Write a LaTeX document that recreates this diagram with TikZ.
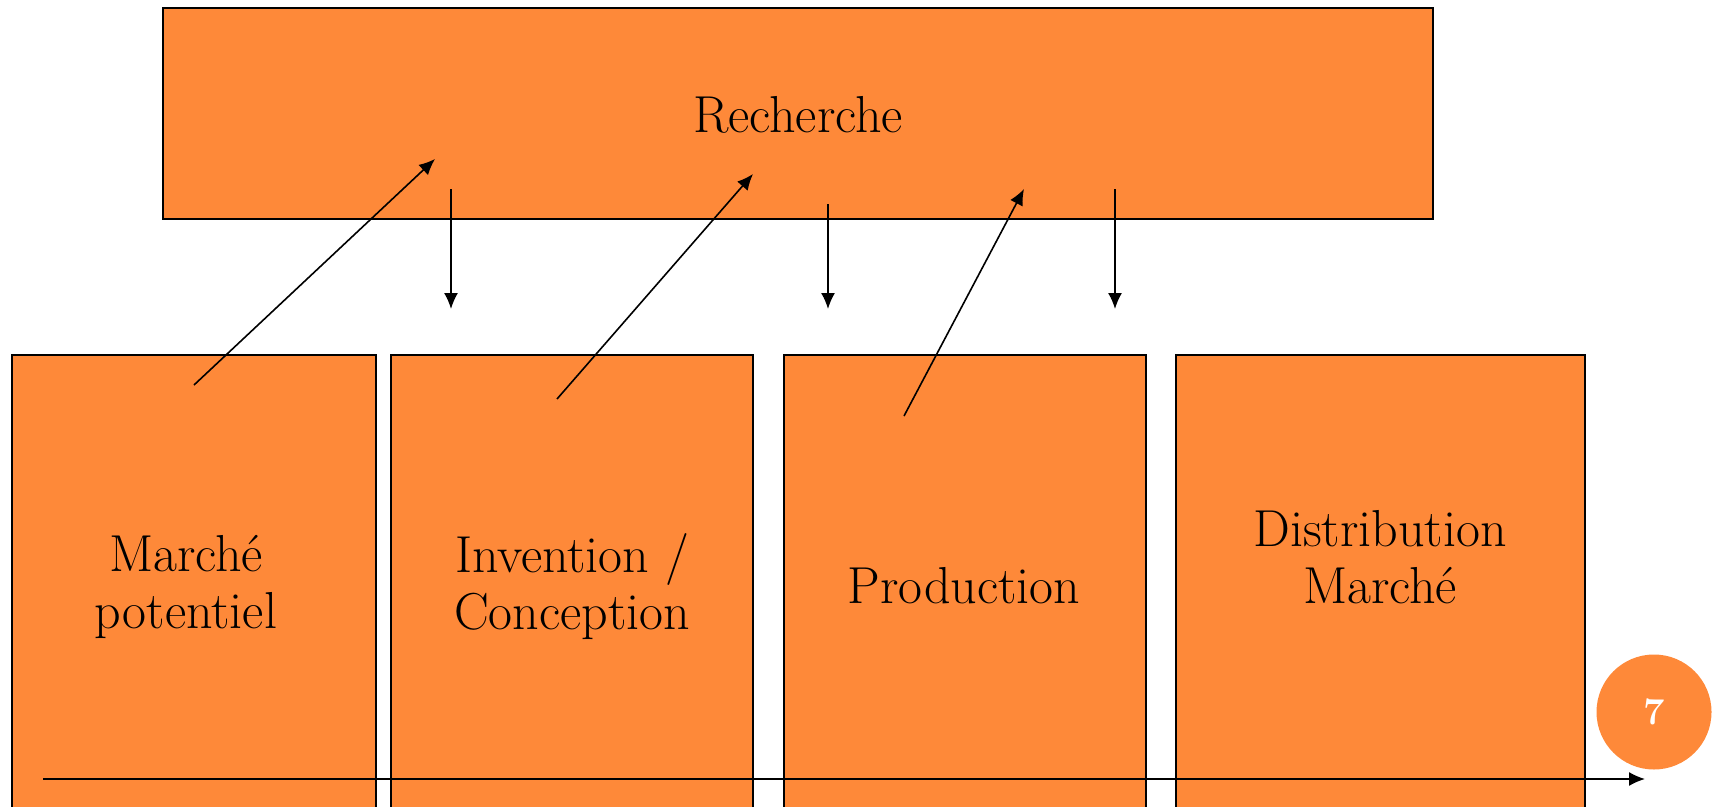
\documentclass[tikz,border=0pt]{standalone}
\usepackage{tikz}
\usepackage{xcolor}
\usetikzlibrary{arrows.meta,positioning}
\definecolor{boxorange}{RGB}{254,137,57}

\tikzset{
  stage/.style={draw=black,line width=1.6pt,fill=boxorange,inner sep=0pt,
    minimum width=362pt,minimum height=462pt},
  stagetxt/.style={align=center,font=\fontsize{52}{57}\selectfont},
  flow/.style={->,line width=1.6pt}
}

\begin{document}
\begin{tikzpicture}[x=1pt,y=-1pt,>={Latex[length=16pt,width=14pt]}]
\useasboundingbox (0,0) rectangle (1716,806);
% top box
\node[stage,minimum width=1270pt,minimum height=211pt] (rech) at (798,113.5) {};
\node[stagetxt] (rechtxt) at (798,115) {Recherche};
% bottom boxes
\node[stage,minimum width=364pt] (marche) at (194,586) {};
\node[stage] (invent) at (572,586) {};
\node[stage] (prod) at (965,586) {};
\node[stage,minimum width=409pt] (distr) at (1380.5,586) {};
\node[stagetxt] (marchetxt) at (186,587) {Marché\\potentiel};
\node[stagetxt] (inventtxt) at (572,587) {Invention /\\Conception};
\node[stagetxt] (prodtxt) at (964,586) {Production};
\node[stagetxt] (distrtxt) at (1380,557) {Distribution\\Marché};
% page number
\node[circle,fill=boxorange,minimum size=115pt,inner sep=0pt,text=white,
  font=\fontsize{38}{38}\selectfont\bfseries] (pnum) at (1654,712) {7};
% arrow ends
\coordinate (a1s) at (194,385);  \coordinate (a1e) at (435,159);
\coordinate (a2s) at (557,399);  \coordinate (a2e) at (753,174);
\coordinate (a3s) at (904,416);  \coordinate (a3e) at (1024,189);
\coordinate (d1s) at (451,189);  \coordinate (d1e) at (451,309);
\coordinate (d2s) at (828,204);  \coordinate (d2e) at (828,309);
\coordinate (d3s) at (1115,189); \coordinate (d3e) at (1115,309);
\coordinate (ts) at (43,779);    \coordinate (te) at (1645,779);
\draw[flow] (a1s)--(a1e);
\draw[flow] (a2s)--(a2e);
\draw[flow] (a3s)--(a3e);
\draw[flow] (d1s)--(d1e);
\draw[flow] (d2s)--(d2e);
\draw[flow] (d3s)--(d3e);
\draw[flow] (ts)--(te);
\end{tikzpicture}
\end{document}
